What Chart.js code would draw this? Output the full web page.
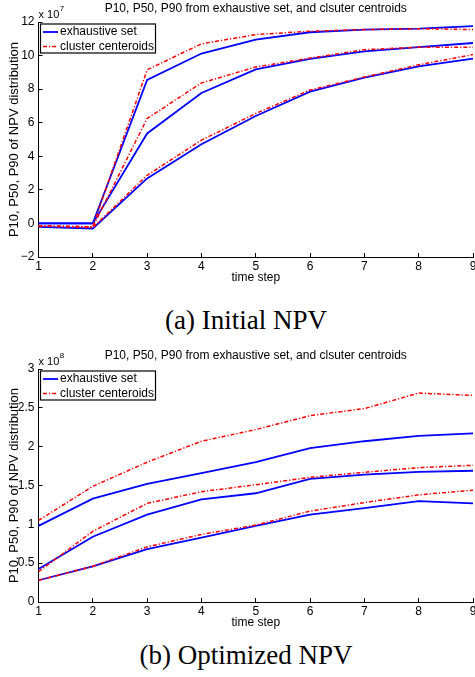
<!DOCTYPE html>
<html>
<head>
<meta charset="utf-8">
<script src="https://cdn.jsdelivr.net/npm/chart.js@4.4.1/dist/chart.umd.min.js"></script>
<style>
  html, body { margin: 0; padding: 0; background: #fff; }
  body { width: 475px; height: 677px; position: relative; overflow: hidden; }
  .plot { position: absolute; left: 0; }
  .cap { position: absolute; left: 0; width: 492px; text-align: center; line-height: 30px;
         font-family: "Liberation Serif", "Times New Roman", serif; font-size: 27px; color: #000; }
</style>
</head>
<body>
<canvas id="npvA" class="plot" width="475" height="285" style="top:0"></canvas>
<div class="cap" style="top:305px">(a) Initial NPV</div>
<canvas id="npvB" class="plot" width="475" height="283" style="top:347px"></canvas>
<div class="cap" style="top:640px">(b) Optimized NPV</div>

<script>
// time steps on the x axis
const steps = ['1', '2', '3', '4', '5', '6', '7', '8', '9'];

// (a) initial NPV, in units of 1e7
const initExhP90 = [0, 0, 8.55, 10.12, 10.95, 11.39, 11.55, 11.6, 11.75];
const initExhP50 = [0, 0, 5.36, 7.77, 9.18, 9.8, 10.25, 10.5, 10.75];
const initExhP10 = [-0.2, -0.3, 2.68, 4.72, 6.4, 7.85, 8.69, 9.36, 9.82];
const initCluP90 = [-0.15, -0.2, 9.15, 10.7, 11.25, 11.45, 11.55, 11.6, 11.55];
const initCluP50 = [-0.15, -0.2, 6.25, 8.37, 9.32, 9.85, 10.35, 10.5, 10.5];
const initCluP10 = [-0.15, -0.25, 2.87, 4.96, 6.55, 7.95, 8.72, 9.45, 10.06];
const initYTicks = [-2, 0, 2, 4, 6, 8, 10, 12];

// (b) optimized NPV, in units of 1e8
const optExhP90 = [0.98, 1.33, 1.52, 1.66, 1.8, 1.98, 2.07, 2.14, 2.17];
const optExhP50 = [0.425, 0.84, 1.125, 1.32, 1.4, 1.585, 1.64, 1.675, 1.69];
const optExhP10 = [0.28, 0.46, 0.68, 0.83, 0.98, 1.125, 1.21, 1.3, 1.27];
const optCluP90 = [1.05, 1.49, 1.8, 2.07, 2.22, 2.4, 2.49, 2.69, 2.66];
const optCluP50 = [0.39, 0.91, 1.27, 1.42, 1.51, 1.605, 1.67, 1.73, 1.76];
const optCluP10 = [0.28, 0.46, 0.71, 0.87, 0.99, 1.17, 1.28, 1.38, 1.44];
const optYTicks = [0, 0.5, 1, 1.5, 2, 2.5, 3];

const titleText = 'P10, P50, P90 from exhaustive set, and clsuter centroids';
const yTitle = 'P10, P50, P90 of NPV distribution';
const legendNames = ['exhaustive set', 'cluster centeroids'];
const sans = '"Liberation Sans", Arial, sans-serif';

function blue(values) {
  return { label: legendNames[0], data: values, borderColor: '#0000ff', borderWidth: 1.8,
           pointRadius: 0, tension: 0, fill: false, order: 1 };
}
function red(values) {
  return { label: legendNames[1], data: values, borderColor: '#ff0000', borderWidth: 1.5,
           borderDash: [4, 2, 1.2, 2], pointRadius: 0, tension: 0, fill: false, order: 0 };
}

// exponent label ("x 10^n") and the boxed legend, matlab style
const matlabBits = {
  id: 'matlabBits',
  afterDraw(chart, args, opts) {
    const { ctx, chartArea: a } = chart;
    ctx.save();
    ctx.fillStyle = '#000';
    ctx.textAlign = 'left';
    ctx.textBaseline = 'alphabetic';
    ctx.font = '11px ' + sans;
    ctx.fillText('x 10', a.left, a.top - 4);
    const w = ctx.measureText('x 10').width;
    ctx.font = '8px ' + sans;
    ctx.fillText(opts.exponent, a.left + w + 0.5, a.top - 11);

    const bx = a.left + 2, by = a.top + 2, bw = 115, bh = 29;
    ctx.fillStyle = '#fff';
    ctx.fillRect(bx, by, bw, bh);
    ctx.strokeStyle = '#000';
    ctx.lineWidth = 1.2;
    ctx.strokeRect(bx, by, bw, bh);
    legendNames.forEach((name, i) => {
      const ds = chart.data.datasets.find(d => d.label === name);
      const y = by + 8 + i * 14.4;
      ctx.strokeStyle = ds.borderColor;
      ctx.lineWidth = ds.borderWidth;
      ctx.setLineDash(ds.borderDash || []);
      ctx.beginPath();
      ctx.moveTo(bx + 2.5, y);
      ctx.lineTo(bx + 17.5, y);
      ctx.stroke();
      ctx.setLineDash([]);
      ctx.fillStyle = '#000';
      ctx.font = '12px ' + sans;
      ctx.textBaseline = 'middle';
      ctx.fillText(name, bx + 19.5, y);
    });
    ctx.restore();
  }
};

function makeChart(id, series, yTicks, exponent, titlePad) {
  const axisGrid = { display: true, drawOnChartArea: false, drawTicks: true, tickLength: -4,
                     color: '#000', lineWidth: 1 };
  const axisBorder = { display: true, color: '#000', width: 1 };
  return new Chart(document.getElementById(id), {
    type: 'line',
    data: { labels: steps, datasets: series },
    options: {
      responsive: false,
      animation: false,
      layout: { padding: { left: 0, right: 2, top: 0, bottom: 0 } },
      plugins: {
        legend: { display: false },
        tooltip: { enabled: false },
        title: { display: true, text: titleText, fullSize: false, color: '#000',
                 font: { family: sans, size: 12, weight: 'normal' }, padding: titlePad },
        matlabBits: { exponent: exponent }
      },
      scales: {
        x: {
          type: 'category', offset: false,
          grid: axisGrid, border: axisBorder,
          ticks: { color: '#000', font: { family: sans, size: 12 }, padding: 6,
                   maxRotation: 0, autoSkip: false },
          title: { display: true, text: 'time step', color: '#000',
                   font: { family: sans, size: 12 }, padding: 0 },
          afterFit(s) { s.height = 28; s.paddingLeft = 0; s.paddingRight = 0; }
        },
        y: {
          min: yTicks[0], max: yTicks[yTicks.length - 1],
          grid: axisGrid, border: axisBorder,
          afterBuildTicks(s) { s.ticks = yTicks.map(v => ({ value: v })); },
          ticks: { color: '#000', font: { family: sans, size: 12 }, padding: 8,
                   callback: v => String(v).replace('-', '\u2212') },
          title: { display: true, text: yTitle, color: '#000',
                   font: { family: sans, size: 13 }, padding: { top: 7, bottom: 0 } },
          afterFit(s) { s.width = 38.5; }
        }
      }
    },
    plugins: [matlabBits]
  });
}

makeChart('npvA',
  [blue(initExhP90), blue(initExhP50), blue(initExhP10),
   red(initCluP90), red(initCluP50), red(initCluP10)],
  initYTicks, '7', { top: 1.5, bottom: 6.1 });

makeChart('npvB',
  [blue(optExhP90), blue(optExhP50), blue(optExhP10),
   red(optCluP90), red(optCluP50), red(optCluP10)],
  optYTicks, '8', { top: 1.5, bottom: 6.1 });
</script>
</body>
</html>
